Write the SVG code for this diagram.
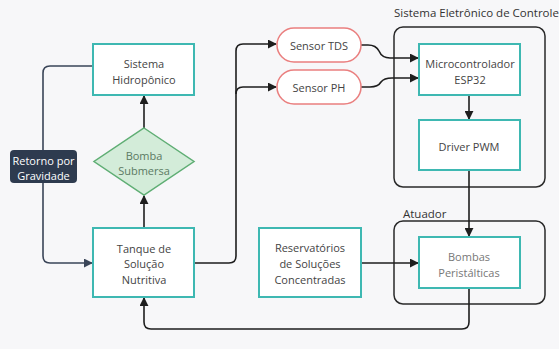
<svg xmlns="http://www.w3.org/2000/svg" width="559" height="349" viewBox="0 0 559 349">
<defs>
<marker id="ah" viewBox="0 0 10 10" refX="9" refY="5" markerWidth="9" markerHeight="9" markerUnits="userSpaceOnUse" orient="auto"><path d="M0,0 L10,5 L0,10 z" fill="#1e1e1e"/></marker>
<marker id="ahs" viewBox="0 0 10 10" refX="9" refY="5" markerWidth="9" markerHeight="9" markerUnits="userSpaceOnUse" orient="auto"><path d="M0,0 L10,5 L0,10 z" fill="#3a4558"/></marker>
</defs>
<style>
text{font-family:"Open Sans","Noto Sans","Liberation Sans",sans-serif;font-size:11px;fill:#444;text-anchor:middle;dominant-baseline:central}
.box{fill:#fff;stroke:#3eb8b2;stroke-width:2}
.grp{fill:none;stroke:#2a2a2a;stroke-width:1.5}
.pill{fill:#fff;stroke:#ea7f7f;stroke-width:1.5}
.c{fill:none;stroke:#1e1e1e;stroke-width:1.6;marker-end:url(#ah)}
.cs{fill:none;stroke:#3a4558;stroke-width:1.6}
.gl{text-anchor:start;fill:#333;font-size:11.5px}
</style>
<rect width="559" height="349" fill="#f7f7f9"/>
<g id="grp-controle">
<rect class="grp" x="394" y="27" width="151" height="160" rx="9"/>
<text class="gl" x="394" y="12">Sistema Eletrônico de Controle</text>
</g>
<g id="grp-atuador">
<rect class="grp" x="394" y="221" width="151" height="83" rx="9"/>
<text class="gl" x="403" y="213">Atuador</text>
</g>
<g id="connectors">
<path class="c" d="M144,128 V96"/>
<path class="c" d="M144,228 V196"/>
<path class="cs" d="M93,66 H50 Q43,66 43,73 V150"/>
<path class="cs" d="M43,183 V256 Q43,263 50,263 H92" marker-end="url(#ahs)"/>
<path class="c" d="M194,263 H229 Q236,263 236,256 V51 Q236,44 243,44 H276"/>
<path class="c" d="M236,94 Q236,87 243,87 H276"/>
<path class="c" d="M361,45 H368 Q376,45 379,51 Q382,58 390,58 H418"/>
<path class="c" d="M361,87 H370 Q378,87 381,82 Q384,78 392,78 H418"/>
<path class="c" d="M469,95 V119"/>
<path class="c" d="M469,170 V236"/>
<path class="c" d="M361,263 H418"/>
<path class="c" d="M469,288 V322 Q469,329 462,329 H151 Q144,329 144,322 V298"/>
</g>
<g id="n-hidroponico">
<rect class="box" x="93" y="44" width="101" height="51"/>
<text x="144" y="63">Sistema</text>
<text x="144" y="79">Hidropônico</text>
</g>
<g id="n-bomba-submersa">
<path d="M144,128 L194,161.5 L144,195 L94,161.5 z" fill="#d3ecd9" stroke="#5fae74" stroke-width="1.5"/>
<text x="144" y="155" style="fill:#5b7a63">Bomba</text>
<text x="144" y="170" style="fill:#5b7a63">Submersa</text>
</g>
<g id="n-retorno">
<rect x="10" y="150" width="67" height="33" rx="4" fill="#2e3b4f"/>
<text x="43.5" y="160" style="fill:#fff">Retorno por</text>
<text x="43.5" y="175" style="fill:#fff">Gravidade</text>
</g>
<g id="n-tanque">
<rect class="box" x="93" y="228" width="101" height="69"/>
<text x="144" y="248">Tanque de</text>
<text x="144" y="263">Solução</text>
<text x="144" y="279">Nutritiva</text>
</g>
<g id="n-sensor-tds">
<rect class="pill" x="277" y="28" width="84" height="34" rx="17"/>
<text x="319" y="45">Sensor TDS</text>
</g>
<g id="n-sensor-ph">
<rect class="pill" x="277" y="70" width="84" height="34" rx="17"/>
<text x="319" y="87">Sensor PH</text>
</g>
<g id="n-micro">
<rect class="box" x="419" y="44" width="101" height="51"/>
<text x="470" y="63">Microcontrolador</text>
<text x="470" y="79">ESP32</text>
</g>
<g id="n-driver">
<rect class="box" x="419" y="120" width="101" height="50"/>
<text x="469" y="146">Driver PWM</text>
</g>
<g id="n-reservatorios">
<rect class="box" x="259" y="228" width="102" height="69"/>
<text x="310" y="247">Reservatórios</text>
<text x="310" y="263">de Soluções</text>
<text x="310" y="279">Concentradas</text>
</g>
<g id="n-bombas">
<rect class="box" x="419" y="237" width="101" height="51"/>
<text x="469" y="256" style="fill:#777">Bombas</text>
<text x="469" y="272" style="fill:#777">Peristálticas</text>
</g>
</svg>
